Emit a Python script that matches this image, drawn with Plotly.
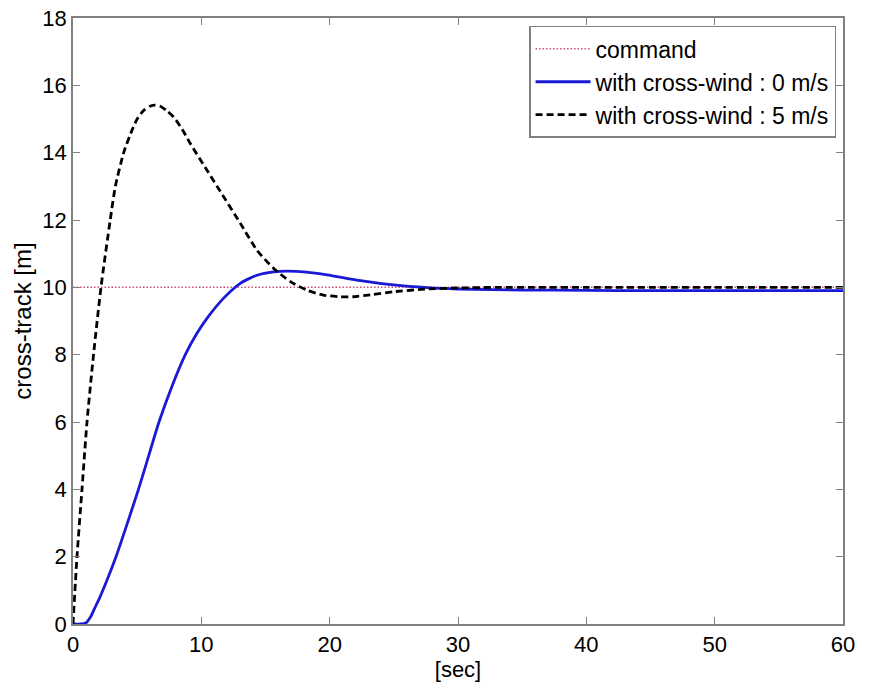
import plotly.graph_objects as go

# Command
cmd_t = [0, 60]
cmd_v = [10, 10]

# with cross-wind : 0 m/s
blue_t = [0, 0.6, 1.0, 1.35, 1.7, 2.1, 2.7, 3.4, 4.2, 5.1, 5.9, 6.7, 7.7, 8.75, 9.6, 10.44, 11.74,
          13.04, 14.34, 15.64, 16.7, 18.2, 19.8, 22.4, 25, 27.6, 30, 35, 40, 45, 50, 55, 60]
blue_v = [0, 0, 0.03, 0.2, 0.48, 0.8, 1.35, 2.05, 2.95, 4.0, 5.0, 6.0, 7.05, 8.0, 8.6, 9.08, 9.68,
          10.12, 10.36, 10.46, 10.48, 10.45, 10.37, 10.2, 10.07, 9.99, 9.95, 9.92, 9.91, 9.9, 9.9, 9.9, 9.9]

# with cross-wind : 5 m/s
black_t = [0, 0.31, 0.7, 1.09, 1.6, 2.18, 2.9, 3.3, 3.95, 4.6, 5.0, 5.5, 6.0, 6.4, 6.8, 7.3, 7.84,
           8.5, 9.14, 10.44, 11.74, 13.04, 14.34, 15.64, 16.94, 18.2, 19.5, 20.8, 21.8, 23.2, 25.0,
           27.6, 30, 33, 36, 40, 45, 50, 55, 60]
black_v = [0, 2, 4, 6, 8, 10, 12, 13.0, 14, 14.67, 15.0, 15.25, 15.38, 15.41, 15.38, 15.25, 15.06,
           14.7, 14.27, 13.48, 12.69, 11.9, 11.1, 10.56, 10.17, 9.92, 9.77, 9.72, 9.72, 9.78, 9.87,
           9.95, 9.98, 10.0, 10.0, 10.0, 10.0, 10.0, 10.0, 10.0]

x_ticks = [0, 10, 20, 30, 40, 50, 60]
y_ticks = [0, 2, 4, 6, 8, 10, 12, 14, 16, 18]

fig = go.Figure()
fig.add_trace(go.Scatter(x=cmd_t, y=cmd_v, mode="lines", name="command",
                         line=dict(color="#d0506a", width=1.5, dash="1.5px,2px")))
fig.add_trace(go.Scatter(x=blue_t, y=blue_v, mode="lines", name="with cross-wind : 0 m/s",
                         line=dict(color="#1a1ad6", width=2.8, shape="spline", smoothing=0.6)))
fig.add_trace(go.Scatter(x=black_t, y=black_v, mode="lines", name="with cross-wind : 5 m/s",
                         line=dict(color="#000000", width=2.8, dash="7px,4px", shape="spline", smoothing=0.6)))

axis_common = dict(showgrid=False, zeroline=False, showline=True, mirror="ticks",
                   linecolor="#808080", linewidth=1.5, ticks="inside", ticklen=7,
                   tickcolor="#808080", tickwidth=1, automargin=False,
                   tickfont=dict(family="Liberation Sans, Arial", size=22, color="#000"))

fig.update_layout(
    width=869, height=684,
    margin=dict(l=73, r=26, t=18, b=60),
    paper_bgcolor="white", plot_bgcolor="white",
    font=dict(family="Liberation Sans, Arial", color="#000"),
    xaxis=dict(range=[0, 60], tickvals=x_ticks, **axis_common,
               title=dict(text="[sec]", font=dict(size=22), standoff=2)),
    yaxis=dict(range=[0, 18], tickvals=y_ticks, **axis_common,
               title=dict(text="cross-track [m]", font=dict(size=24), standoff=4)),
    legend=dict(x=0.991, y=0.987, xanchor="right", yanchor="top",
                bgcolor="white", bordercolor="#808080", borderwidth=1.5,
                font=dict(family="Liberation Sans, Arial", size=23, color="#000"),
                itemwidth=55, tracegroupgap=0),
    showlegend=True,
)

fig.write_html("out.html")
